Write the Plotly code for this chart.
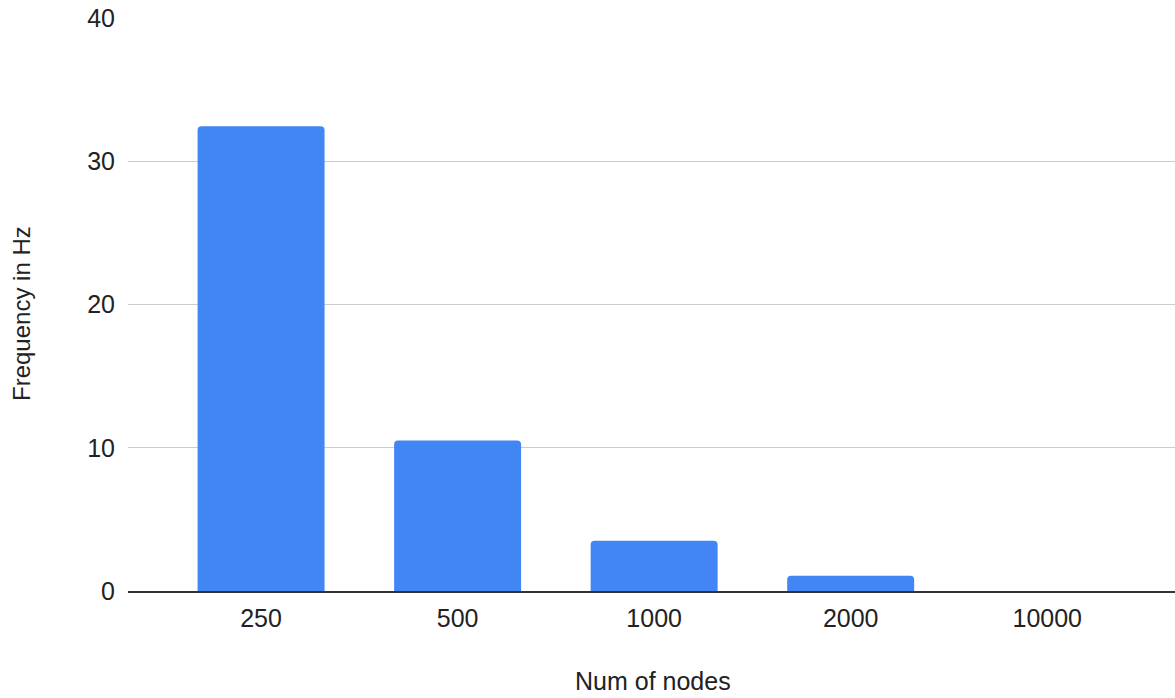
import plotly.graph_objects as go

categories = ["250", "500", "1000", "2000", "10000"]
frequency_hz = [32.45, 10.5, 3.5, 1.07, 0.0]
y_ticks = [0, 10, 20, 30, 40]
x_title = "Num of nodes"
y_title = "Frequency in Hz"

fig = go.Figure()
fig.add_trace(go.Bar(
    x=categories, y=frequency_hz,
    marker=dict(color="#4285F4", cornerradius=4, line=dict(width=0)),
    width=0.646,
))

font = "Liberation Sans, Arial, sans-serif"
fs = 25
txt = "#222222"
L, R, T, B = 128, 0, 18, 107
W, H = 1175, 698
pw, ph = W - L - R, H - T - B

fig.update_layout(
    width=W, height=H,
    margin=dict(l=L, r=R, t=T, b=B),
    paper_bgcolor="white", plot_bgcolor="white",
    showlegend=False,
    font=dict(family=font, size=fs, color=txt),
    xaxis=dict(
        type="category", range=[-0.677, 4.65],
        showgrid=False, showline=True, linecolor="#333333", linewidth=1.5,
        ticks="", ticklabelstandoff=4,
        tickfont=dict(size=fs, color=txt),
    ),
    yaxis=dict(
        range=[0, 40], tickvals=y_ticks,
        showgrid=True, gridcolor="#cccccc", gridwidth=1,
        zeroline=False, showline=False,
        ticks="", ticklabelstandoff=12,
        tickfont=dict(size=fs, color=txt),
    ),
    annotations=[
        dict(text=x_title, xref="paper", yref="paper",
             x=(653 - L) / pw, y=(H - B - 681) / ph,
             xanchor="center", yanchor="middle", showarrow=False,
             borderpad=0,
             font=dict(size=25, color=txt, family=font)),
        dict(text=y_title, xref="paper", yref="paper",
             x=(21 - L) / pw, y=(H - B - 314) / ph, textangle=-90,
             xanchor="center", yanchor="middle", showarrow=False,
             font=dict(size=24, color=txt, family=font)),
    ],
)

fig.write_html("out.html")
